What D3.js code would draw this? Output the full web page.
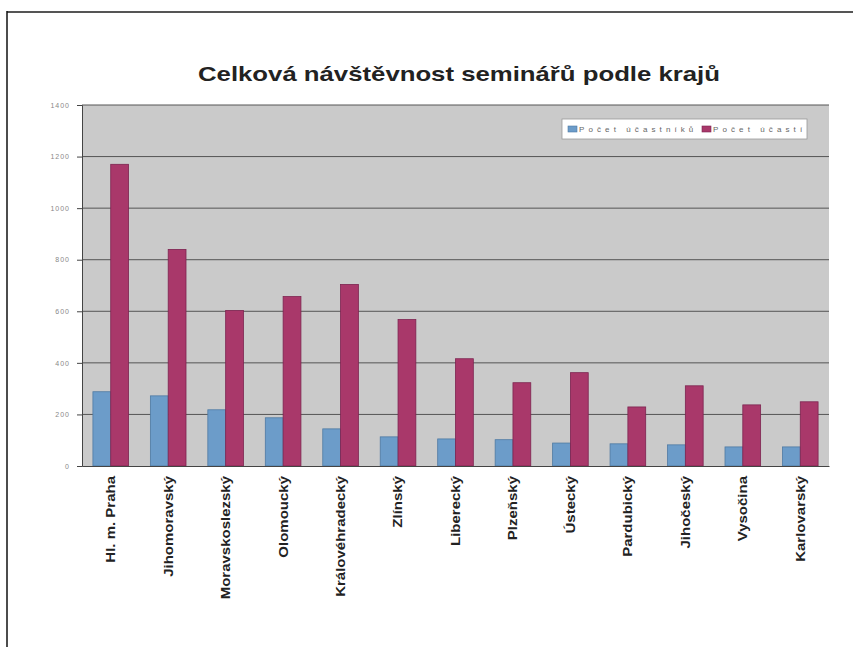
<!DOCTYPE html>
<html>
<head>
<meta charset="utf-8">
<script src="https://cdn.jsdelivr.net/npm/d3@7"></script>
<style>
  body { margin: 0; background: #fff; }
  svg { display: block; font-family: "Liberation Sans", Arial, sans-serif; }
</style>
</head>
<body>
<div id="chart"></div>
<script>
// data
var regions = ["Hl. m. Praha", "Jihomoravský", "Moravskoslezský", "Olomoucký", "Královéhradecký",
  "Zlínský", "Liberecký", "Plzeňský", "Ústecký", "Pardubický", "Jihočeský", "Vysočina", "Karlovarský"];
var ucastniku = [288, 272, 218, 187, 144, 113, 105, 102, 89, 86, 82, 74, 74];
var ucasti = [1170, 840, 603, 657, 704, 568, 416, 323, 362, 229, 311, 237, 249];
var seriesNames = ["Počet účastníků", "Počet účastí"];
var yTicks = [0, 200, 400, 600, 800, 1000, 1200, 1400];

var W = 853, H = 647;
var margin = {top: 105, right: 24, bottom: 181, left: 82},
  width = W - margin.left - margin.right,
  height = H - margin.top - margin.bottom;

var colors = ["#6c9cc9", "#a9386a"];
var strokes = ["#4f7aa3", "#7d2450"];

var svg = d3.select("#chart").append("svg")
  .attr("width", W)
  .attr("height", H);

// outer frame (only top and left edges are visible)
svg.append("line").attr("x1", 7).attr("x2", W).attr("y1", 12).attr("y2", 12)
  .attr("stroke", "#555").attr("stroke-width", 2);
svg.append("line").attr("x1", 7).attr("x2", 7).attr("y1", 11).attr("y2", H)
  .attr("stroke", "#111").attr("stroke-width", 1.5);

// title
svg.append("text")
  .attr("x", 459).attr("y", 81)
  .attr("text-anchor", "middle")
  .attr("font-size", 21).attr("font-weight", "bold")
  .attr("fill", "#222")
  .attr("textLength", 522).attr("lengthAdjust", "spacingAndGlyphs")
  .text("Celková návštěvnost seminářů podle krajů");

var g = svg.append("g")
  .attr("transform", "translate(" + margin.left + "," + margin.top + ")");

var x0 = d3.scaleBand().domain(regions).range([0, width])
  .paddingInner(0.38).paddingOuter(0.19);
var x1 = d3.scaleBand().domain([0, 1]).range([0, x0.bandwidth()]);
var y = d3.scaleLinear().domain([0, 1400]).range([height, 0]);

// plot background
g.append("rect")
  .attr("width", width).attr("height", height)
  .attr("fill", "#cacaca");

// gridlines
g.append("g")
  .selectAll("line")
  .data(yTicks.slice(1))
  .enter().append("line")
  .attr("x1", 0).attr("x2", width)
  .attr("y1", function(d) { return y(d); })
  .attr("y2", function(d) { return y(d); })
  .attr("stroke", "#555").attr("stroke-width", 1);

// bars
var groups = g.selectAll(".grp")
  .data(regions)
  .enter().append("g")
  .attr("transform", function(d) { return "translate(" + x0(d) + ",0)"; });

groups.selectAll("rect")
  .data(function(d, i) { return [ucastniku[i], ucasti[i]]; })
  .enter().append("rect")
  .attr("x", function(d, j) { return x1(j); })
  .attr("y", function(d) { return y(d); })
  .attr("width", x1.bandwidth())
  .attr("height", function(d) { return height - y(d); })
  .attr("fill", function(d, j) { return colors[j]; })
  .attr("stroke", function(d, j) { return strokes[j]; })
  .attr("stroke-width", 0.8);

// y axis
var yAxis = g.append("g")
  .call(d3.axisLeft(y).tickValues(yTicks).tickFormat(d3.format("d")).tickSize(5).tickPadding(7));
yAxis.select(".domain").attr("stroke", "#444");
yAxis.selectAll(".tick line").attr("stroke", "#444");
yAxis.selectAll(".tick text")
  .attr("font-size", 7).attr("fill", "#888")
  .attr("font-family", "'Liberation Sans', Arial, sans-serif")
  .style("letter-spacing", "1px");

// x axis
var xAxis = g.append("g")
  .attr("transform", "translate(0," + height + ")")
  .call(d3.axisBottom(x0).tickSize(0).tickPadding(0));
xAxis.select(".domain").attr("stroke", "#444");
xAxis.selectAll(".tick text")
  .attr("font-size", 12.5).attr("font-weight", "bold").attr("fill", "#222")
  .attr("font-family", "'Liberation Sans', Arial, sans-serif")
  .attr("text-anchor", "end")
  .attr("dy", "0.35em")
  .attr("transform", "translate(0,10) rotate(-90) scale(1.2,1)");

// legend
var legend = svg.append("g").attr("transform", "translate(562,119)");
legend.append("rect")
  .attr("width", 245).attr("height", 20)
  .attr("fill", "#fff").attr("stroke", "#999").attr("stroke-width", 0.8);
var legX = [6, 140];
seriesNames.forEach(function(name, i) {
  legend.append("rect")
    .attr("x", legX[i]).attr("y", 7).attr("width", 9).attr("height", 6)
    .attr("fill", colors[i]).attr("stroke", strokes[i]).attr("stroke-width", 0.6);
  legend.append("text")
    .attr("x", legX[i] + 11).attr("y", 13)
    .attr("font-size", 8).attr("fill", "#666")
    .style("letter-spacing", "4.1px")
    .text(name);
});
</script>
</body>
</html>
